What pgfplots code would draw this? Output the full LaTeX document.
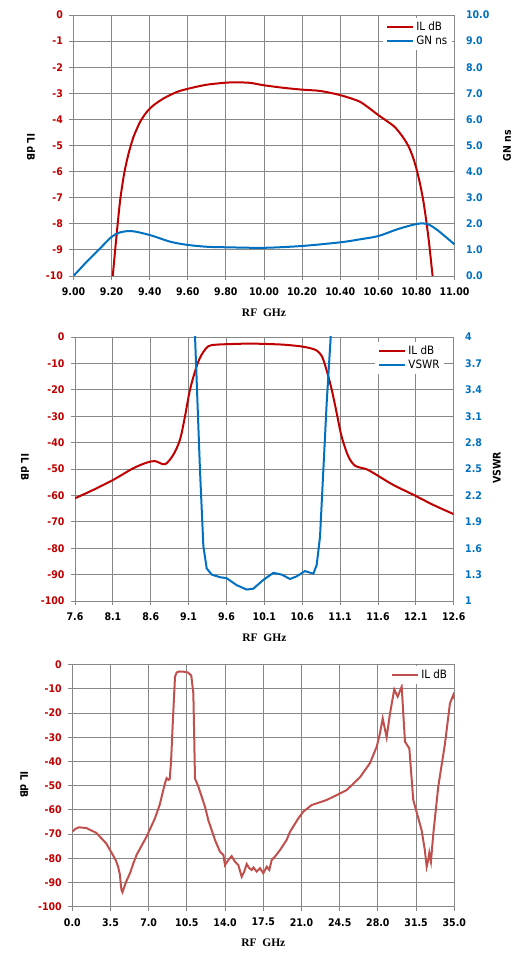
\documentclass[border=0pt]{standalone}
\usepackage{fontspec}
\setmainfont{DejaVu Sans Condensed}
\newfontfamily\rffont{Liberation Serif}
\usepackage{pgfplots}
\pgfplotsset{compat=1.18}
\definecolor{ilred}{HTML}{C00000}
\definecolor{gnblue}{HTML}{0070C0}
\definecolor{ilthree}{HTML}{C0504D}
\definecolor{gridgray}{HTML}{878787}
\newcommand\tfont{\fontsize{10.5}{12}\selectfont\bfseries}
\pgfplotsset{
  base/.style={
    scale only axis, anchor=south west,
    /pgf/number format/assume math mode=true,
    axis line style={gridgray, line width=0.9pt},
    tick style={gridgray, line width=0.9pt},
    tick align=outside, major tick length=4pt,
    ticklabel style={font=\tfont},
    legend style={draw=none, fill=white, font=\fontsize{11.5}{13}\selectfont,
      legend cell align=left, at={(1,1)}, anchor=north east},
    legend image code/.code={\draw[#1, line width=2pt] (0pt,0pt) -- (26pt,0pt);},
  },
  leftaxis/.style={
    base, grid=major, grid style={gridgray, line width=0.9pt},
    xtick pos=bottom, ytick pos=left,
    yticklabel style={ilred, xshift=-3pt},
    xticklabel style={yshift=-4pt},
    every axis x label/.style={at={(axis description cs:0.5,#1)}, anchor=center,
      font=\rffont\fontsize{11.5}{13}\selectfont\bfseries},
  },
  rightaxis/.style={
    base, axis x line=none, axis y line*=right, major tick length=0pt,
    yticklabel style={gnblue, xshift=8pt, anchor=west},
    axis line style={draw=none},
  },
}
\begin{document}
\begin{tikzpicture}
\useasboundingbox (0,0) rectangle (524pt,969pt);
% ---------------- chart 1 ----------------
\begin{axis}[leftaxis=-0.142, at={(73.5pt,693pt)}, width=381pt, height=261pt,
  xmin=9, xmax=11, ymin=-10, ymax=0,
  xtick={9,9.2,9.4,9.6,9.8,10,10.2,10.4,10.6,10.8,11},
  xticklabels={9.00,9.20,9.40,9.60,9.80,10.00,10.20,10.40,10.60,10.80,11.00},
  ytick={-10,-9,-8,-7,-6,-5,-4,-3,-2,-1,0},
  xlabel={RF\ \ GHz}, ylabel={IL dB},
  every axis y label/.style={at={(axis description cs:-0.1115,0.494)}, anchor=center, rotate=-90, font=\tfont}]
\addplot[ilred, line width=2pt, smooth, tension=0.4] coordinates {
(9.206,-10) (9.227,-8.37) (9.245,-7.09) (9.266,-6.07) (9.289,-5.31) (9.315,-4.67)
(9.350,-4.09) (9.385,-3.71) (9.420,-3.46) (9.472,-3.20) (9.542,-2.95) (9.604,-2.82)
(9.700,-2.67) (9.805,-2.59) (9.857,-2.58) (9.927,-2.60) (9.997,-2.69) (10.102,-2.79)
(10.199,-2.86) (10.295,-2.91) (10.400,-3.07) (10.505,-3.33) (10.601,-3.84) (10.680,-4.25)
(10.715,-4.54) (10.740,-4.80) (10.760,-5.05) (10.782,-5.45) (10.802,-5.94) (10.820,-6.50)
(10.837,-7.15) (10.852,-7.90) (10.866,-8.70) (10.885,-10)};
\end{axis}
\begin{axis}[rightaxis, at={(73.5pt,693pt)}, width=381pt, height=261pt,
  xmin=9, xmax=11, ymin=0, ymax=10,
  ytick={0,1,2,3,4,5,6,7,8,9,10},
  yticklabels={0.0,1.0,2.0,3.0,4.0,5.0,6.0,7.0,8.0,9.0,10.0},
  ylabel={GN ns},
  every axis y label/.style={at={(axis description cs:1.138,0.5)}, anchor=center, rotate=90, font=\tfont},
  legend style={xshift=-2pt, yshift=-3pt}]
\addlegendimage{ilred}
\addlegendentry{IL dB}
\addplot[gnblue, line width=2pt, smooth] coordinates {
(9.00,0) (9.07,0.55) (9.14,1.06) (9.20,1.50) (9.245,1.67) (9.306,1.72) (9.40,1.57)
(9.51,1.31) (9.60,1.19) (9.70,1.12) (9.80,1.10) (10.00,1.08) (10.20,1.15) (10.40,1.29)
(10.50,1.40) (10.60,1.53) (10.70,1.79) (10.80,1.99) (10.855,2.00) (10.91,1.76) (11.00,1.21)};
\addlegendentry{GN ns}
\end{axis}
% ---------------- chart 2 ----------------
\begin{axis}[leftaxis=-0.140, at={(75pt,368pt)}, width=378.7pt, height=264pt,
  xmin=7.6, xmax=12.6, ymin=-100, ymax=0,
  xtick={7.6,8.1,8.6,9.1,9.6,10.1,10.6,11.1,11.6,12.1,12.6},
  xticklabels={7.6,8.1,8.6,9.1,9.6,10.1,10.6,11.1,11.6,12.1,12.6},
  ytick={-100,-90,-80,-70,-60,-50,-40,-30,-20,-10,0},
  xlabel={RF\ \ GHz}, ylabel={IL dB},
  every axis y label/.style={at={(axis description cs:-0.132,0.508)}, anchor=center, rotate=-90, font=\tfont}]
\addplot[ilred, line width=2pt, smooth] coordinates {
(7.6,-61.1) (7.842,-57.9) (8.106,-54.1) (8.37,-49.7) (8.546,-47.6) (8.656,-47.0)
(8.788,-48.2) (8.898,-44.6) (8.986,-38.9) (9.052,-30.1) (9.118,-20.0) (9.206,-11.1)
(9.272,-6.7) (9.36,-3.5) (9.47,-2.9) (9.69,-2.65) (9.91,-2.5) (10.13,-2.65) (10.35,-2.9)
(10.57,-3.5) (10.70,-4.2) (10.79,-5.1) (10.86,-7.3) (10.92,-12.4) (10.99,-20.0)
(11.055,-28.8) (11.12,-37.7) (11.21,-45.3) (11.30,-48.8) (11.45,-50.1) (11.58,-52.2)
(11.80,-56.0) (12.07,-59.8) (12.33,-63.6) (12.6,-67.1)};
\end{axis}
\begin{axis}[rightaxis, at={(75pt,368pt)}, width=378.7pt, height=264pt,
  xmin=7.6, xmax=12.6, ymin=1, ymax=4,
  ytick={1,1.3,1.6,1.9,2.2,2.5,2.8,3.1,3.4,3.7,4},
  yticklabels={1,1.3,1.6,1.9,2.2,2.5,2.8,3.1,3.4,3.7,4},
  ylabel={VSWR},
  every axis y label/.style={at={(axis description cs:1.114,0.505)}, anchor=center, rotate=90, font=\tfont},
  legend style={xshift=-9pt, yshift=-5pt}]
\addlegendimage{ilred}
\addlegendentry{IL dB}
\addplot[gnblue, line width=2pt] coordinates {
(9.180,4.2) (9.185,4.0) (9.198,3.70) (9.25,2.49) (9.295,1.62) (9.339,1.37) (9.405,1.30)
(9.515,1.27) (9.60,1.26) (9.735,1.18) (9.867,1.13) (9.955,1.14) (10.087,1.24)
(10.219,1.32) (10.329,1.30) (10.439,1.25) (10.527,1.28) (10.637,1.34) (10.747,1.31)
(10.791,1.41) (10.835,1.73) (10.879,2.49) (10.923,3.25) (10.976,4.0) (10.99,4.2)};
\addlegendentry{VSWR}
\end{axis}
% ---------------- chart 3 ----------------
\begin{axis}[leftaxis=-0.149, at={(72.3pt,62.3pt)}, width=382pt, height=242pt,
  xmin=0, xmax=35, ymin=-100, ymax=0,
  xtick={0,3.5,7,10.5,14,17.5,21,24.5,28,31.5,35},
  xticklabels={0.0,3.5,7.0,10.5,14.0,17.5,21.0,24.5,28.0,31.5,35.0},
  ytick={-100,-90,-80,-70,-60,-50,-40,-30,-20,-10,0},
  xlabel={RF\ \ GHz}, ylabel={IL dB},
  every axis y label/.style={at={(axis description cs:-0.126,0.504)}, anchor=center, rotate=-90, font=\tfont},
  legend style={xshift=-2pt, yshift=-1pt}]
\addplot[ilthree, line width=2pt] coordinates {
(0.0,-69.0) (0.3,-67.8) (0.6,-67.2) (1.3,-67.5) (2.2,-69.5) (3.1,-73.8) (3.7,-78.5)
(4.0,-81.0) (4.2,-83.5) (4.35,-86.5) (4.5,-93.0) (4.6,-94.0) (4.75,-92.0) (4.95,-89.5)
(5.3,-86.0) (5.6,-82.0) (5.9,-78.5) (6.8,-71.1) (7.57,-63.5) (8.0,-58.0) (8.49,-49.0)
(8.64,-46.9) (8.80,-47.6) (8.92,-47.4) (9.05,-40.0) (9.19,-25.6) (9.41,-5.0) (9.56,-3.2)
(9.8,-2.8) (10.2,-2.9) (10.6,-3.2) (10.9,-4.5) (11.09,-11.8) (11.17,-30) (11.24,-47.0)
(11.55,-50.4) (12.16,-58.7) (12.46,-64.2) (13.07,-72.4) (13.53,-77.3) (13.84,-78.6)
(13.99,-82.8) (14.3,-80.7) (14.6,-79.1) (14.9,-81.4) (15.21,-82.8) (15.52,-87.6)
(15.75,-85.5) (15.98,-82.4) (16.2,-84.0) (16.43,-84.8) (16.6,-83.8) (16.89,-85.5)
(17.2,-84.1) (17.5,-86.2) (17.81,-83.5) (18.05,-84.8) (18.27,-80.7) (18.57,-79.3)
(19.03,-76.6) (19.64,-72.4) (19.95,-69.0) (20.71,-63.5) (21.17,-60.7) (21.93,-58.0)
(23.31,-55.9) (24.22,-53.9) (25.14,-51.8) (26.36,-46.5) (27.27,-40.7) (27.89,-33.9)
(28.19,-28.3) (28.44,-22.2) (28.8,-30.0) (29.1,-20.4) (29.5,-10.2) (29.81,-13.2)
(30.18,-9.1) (30.48,-31.8) (30.88,-34.6) (31.24,-55.9) (32.0,-68.3) (32.3,-76.6)
(32.47,-83.5) (32.6,-81.0) (32.71,-77.7) (32.86,-81.4) (33.08,-69.7) (33.53,-50.4)
(34.15,-32.5) (34.6,-16.0) (34.91,-12.5) (35.0,-14.0)};
\addlegendentry{IL dB}
\end{axis}
\end{tikzpicture}
\end{document}
